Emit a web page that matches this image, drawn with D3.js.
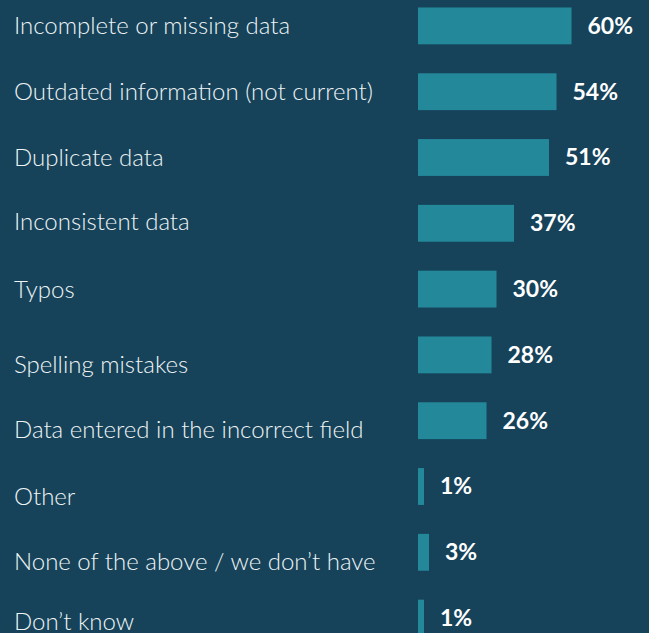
<!DOCTYPE html>
<html>
<head>
<meta charset="utf-8">
<script src="https://cdn.jsdelivr.net/npm/d3@7"></script>
<style>
  html, body { margin: 0; padding: 0; background: #16435a; }
  svg { display: block; }
</style>
</head>
<body>
<div id="chart"></div>
<script>
// chart data
var categories = [
  "Incomplete or missing data",
  "Outdated information (not current)",
  "Duplicate data",
  "Inconsistent data",
  "Typos",
  "Spelling mistakes",
  "Data entered in the incorrect field",
  "Other",
  "None of the above / we don\u2019t have",
  "Don\u2019t know"
];
var values = [60, 54, 51, 37, 30, 28, 26, 1, 3, 1];

// small vertical nudges of the category labels, as laid out in the original
var labelNudge = [0, 0, 0, -2, 0, 10, 9, 10, 9, 3];

var svgWidth = 649;
var svgHeight = 633;

var svg = d3.select("#chart")
  .append("svg")
  .attr("width", svgWidth)
  .attr("height", svgHeight);

svg.append("rect")
  .attr("width", svgWidth)
  .attr("height", svgHeight)
  .attr("fill", "#16435a");

var barLeft = 418;

// band scale for rows
var yScale = d3.scaleBand()
  .domain(categories)
  .range([-7, 651])
  .paddingInner(0.44)
  .paddingOuter(0.22);

// bars have a small minimum width in the original, so the domain starts a bit below zero
var xScale = d3.scaleLinear()
  .domain([-1.4, 60])
  .range([0, 153.5]);

var rows = categories.map(function(c, i) {
  return { label: c, value: values[i], nudge: labelNudge[i] };
});

var rowGroup = svg.selectAll("g.row")
  .data(rows)
  .enter()
  .append("g")
  .attr("class", "row")
  .attr("transform", d => `translate(0, ${yScale(d.label)})`);

rowGroup.append("rect")
  .attr("x", barLeft)
  .attr("y", 0)
  .attr("width", d => xScale(d.value))
  .attr("height", yScale.bandwidth())
  .attr("fill", "#23899a");

// category labels
rowGroup.append("text")
  .attr("x", 14)
  .attr("y", d => yScale.bandwidth() / 2 + 8.5 + d.nudge)
  .attr("font-family", "Lato, 'Open Sans', sans-serif")
  .attr("font-weight", 300)
  .attr("font-size", "24px")
  .attr("fill", "#eef3f5")
  .text(d => d.label);

// value labels
rowGroup.append("text")
  .attr("x", d => barLeft + xScale(d.value) + 16)
  .attr("y", yScale.bandwidth() / 2 + 8)
  .attr("font-family", "Lato, 'Open Sans', sans-serif")
  .attr("font-weight", 700)
  .attr("font-size", "23px")
  .attr("fill", "#ffffff")
  .text(d => d.value + "%");
</script>
</body>
</html>
